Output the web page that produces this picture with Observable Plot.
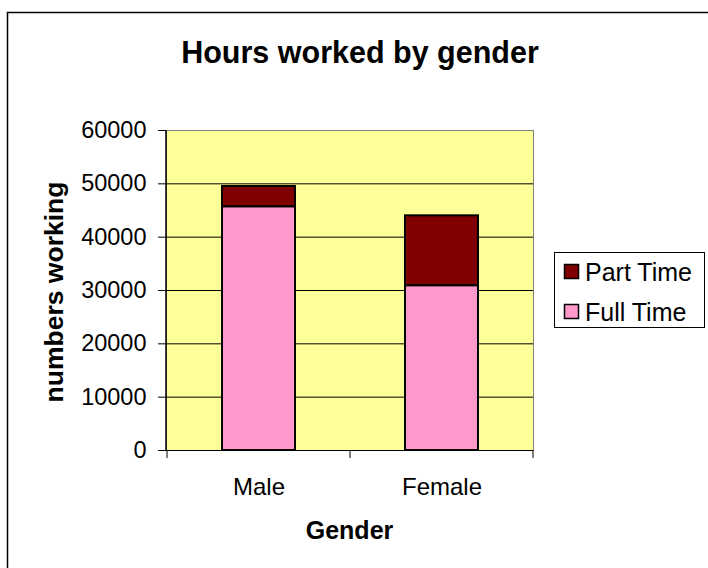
<!DOCTYPE html>
<html>
<head>
<meta charset="utf-8">
<script src="https://cdn.jsdelivr.net/npm/d3@7"></script>
<script src="https://cdn.jsdelivr.net/npm/@observablehq/plot@0.6"></script>
<style>
  html, body { margin: 0; padding: 0; background: #fff; }
  #chart { width: 708px; height: 568px; overflow: hidden; }
</style>
</head>
<body>
<div id="chart"></div>
<script>
const title = "Hours worked by gender";
const yLabel = "numbers working";
const xLabel = "Gender";
const categories = ["Male", "Female"];
const seriesNames = ["Full Time", "Part Time"];
const fullTime = [45700, 30900];
const partTime = [3800, 13100];
const yTicks = [0, 10000, 20000, 30000, 40000, 50000, 60000];
const seriesColors = ["#FF99CC", "#800000"];

const data = [];
categories.forEach((c, i) => {
  data.push({gender: c, type: seriesNames[0], value: fullTime[i]});
  data.push({gender: c, type: seriesNames[1], value: partTime[i]});
});

const font = "'Liberation Sans', Arial, sans-serif";

const plot = Plot.plot({
  width: 708,
  height: 568,
  marginLeft: 166,
  marginRight: 175,
  marginTop: 130,
  marginBottom: 118,
  style: {fontFamily: font, fontSize: "24px", background: "#fff", color: "#000", overflow: "visible"},
  x: {domain: categories, padding: 0, label: null},
  y: {domain: [0, 60000], label: null},
  color: {domain: seriesNames, range: seriesColors},
  marks: [
    Plot.frame({fill: "#FFFF99", stroke: "#808080"}),
    Plot.gridY(yTicks.filter(t => t > 0 && t < 60000), {stroke: "#000", strokeOpacity: 1, strokeWidth: 1}),
    Plot.barY(data, {x: "gender", y: "value", fill: "type", stroke: "#000", strokeWidth: 2, insetLeft: 55, insetRight: 55}),
    Plot.ruleY([0], {stroke: "#000", strokeWidth: 1}),
    Plot.axisY({ticks: yTicks, tickFormat: d => String(d), tickSize: 8, tickPadding: 12, fontSize: 23.5, label: null, stroke: "#000"}),
    Plot.axisX({tickSize: 0, tickPadding: 27, fontSize: 24, label: null})
  ]
});

document.getElementById("chart").appendChild(plot);

const svg = d3.select(plot);
const xs = plot.scale("x");
const ys = plot.scale("y");
const x0 = xs.range[0], x1 = xs.range[1];
const yTop = ys.apply(60000), yBot = ys.apply(0);

// left axis line
svg.append("line").attr("x1", x0).attr("x2", x0).attr("y1", yTop).attr("y2", yBot)
  .attr("stroke", "#000").attr("stroke-width", 1.5);
// x ticks at band boundaries
const bounds = categories.map(c => xs.apply(c)).concat([xs.apply(categories[categories.length - 1]) + xs.bandwidth]);
bounds.forEach(b => {
  svg.append("line").attr("x1", b).attr("x2", b).attr("y1", yBot).attr("y2", yBot + 8)
    .attr("stroke", "#000").attr("stroke-width", 1);
});

// outer chart-area border (cropped)
svg.append("path").attr("d", "M7.5,568V12.5H708").attr("fill", "none").attr("stroke", "#000").attr("stroke-width", 1.5);

// title
svg.append("text").attr("x", 360).attr("y", 63).attr("text-anchor", "middle")
  .attr("font-family", font).attr("font-weight", "bold").attr("font-size", 30.5).text(title);

// y label
svg.append("text").attr("transform", "translate(63,292) rotate(-90)").attr("text-anchor", "middle")
  .attr("font-family", font).attr("font-weight", "bold").attr("font-size", 26.5).text(yLabel);

// x label
svg.append("text").attr("x", (x0 + x1) / 2).attr("y", 539).attr("text-anchor", "middle")
  .attr("font-family", font).attr("font-weight", "bold").attr("font-size", 25).text(xLabel);

// legend
const lg = svg.append("g").attr("text-anchor", "start");
lg.append("rect").attr("x", 554.5).attr("y", 252.5).attr("width", 150).attr("height", 75)
  .attr("fill", "#fff").attr("stroke", "#000").attr("stroke-width", 1);
const legendOrder = [seriesNames[1], seriesNames[0]];
legendOrder.forEach((name, i) => {
  const yy = 264 + i * 40;
  lg.append("rect").attr("x", 564.5).attr("y", yy + 0.5).attr("width", 14).attr("height", 14)
    .attr("fill", seriesColors[seriesNames.indexOf(name)]).attr("stroke", "#000").attr("stroke-width", 1.5);
  lg.append("text").attr("x", 585).attr("y", yy + 16.5).attr("text-anchor", "start")
    .attr("font-family", font).attr("font-size", 25).text(name);
});
</script>
</body>
</html>
